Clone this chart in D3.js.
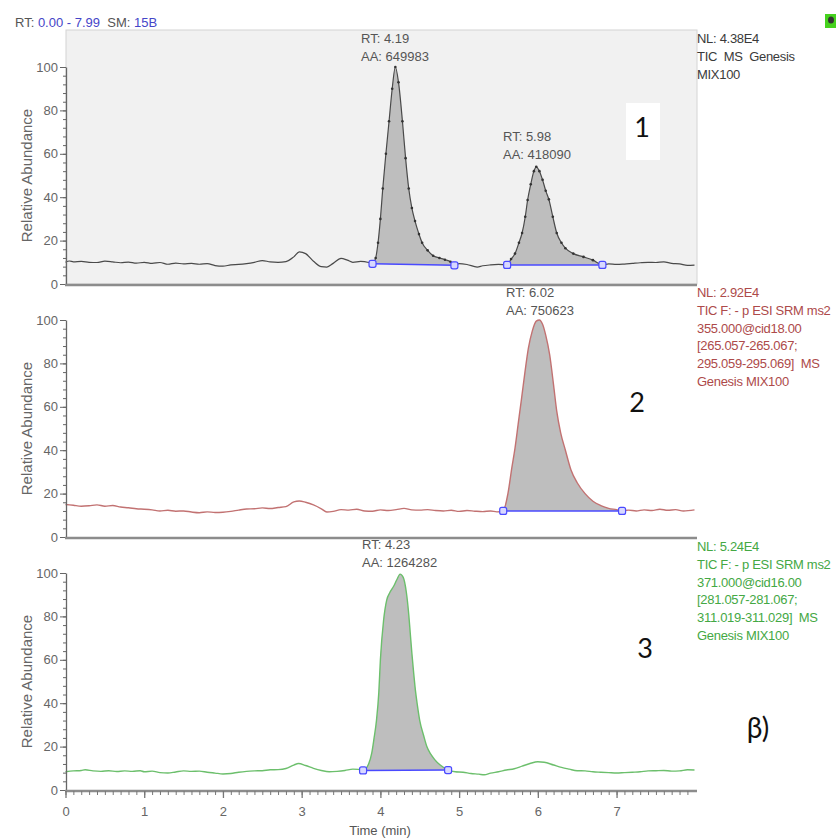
<!DOCTYPE html>
<html>
<head>
<meta charset="utf-8">
<script src="https://cdn.jsdelivr.net/npm/d3@7"></script>
<style>
  body { margin: 0; background: #fff; }
  svg text { font-family: "Liberation Sans", Arial, sans-serif; white-space: pre; }
</style>
</head>
<body>
<div id="chart"></div>
<script>
// chromatogram traces, [time (min), relative abundance]
const trace1 = [
  [0.00, 10.0], [0.05, 10.6], [0.10, 10.2], [0.20, 10.4], [0.30, 10.0], [0.40, 9.9], [0.50, 10.5],
  [0.60, 10.2], [0.70, 9.8], [0.80, 10.1], [0.90, 9.6], [1.00, 10.0], [1.10, 9.5], [1.20, 9.9],
  [1.30, 9.1], [1.40, 9.6], [1.50, 9.3], [1.60, 9.5], [1.70, 9.1], [1.80, 9.4], [1.90, 8.5],
  [2.00, 8.2], [2.10, 8.8], [2.20, 9.0], [2.30, 9.4], [2.40, 10.0], [2.50, 10.8], [2.60, 10.2],
  [2.70, 10.0], [2.80, 10.3], [2.90, 12.5], [2.97, 14.8], [3.05, 14.0], [3.15, 10.5], [3.25, 8.0],
  [3.32, 7.8], [3.40, 9.5], [3.50, 11.8], [3.58, 11.0], [3.65, 10.0], [3.75, 10.4], [3.85, 9.9],
  [3.90, 9.3], [3.94, 12], [3.97, 19], [4.00, 30], [4.03, 44], [4.07, 60], [4.11, 75], [4.15, 90],
  [4.19, 100], [4.23, 93], [4.28, 75], [4.32, 58], [4.36, 44], [4.40, 35], [4.44, 29], [4.49, 23],
  [4.53, 19], [4.60, 15.5], [4.67, 13], [4.75, 12], [4.82, 11.2], [4.89, 10.2], [4.94, 8.6],
  [5.00, 9.4], [5.10, 9.0], [5.23, 7.8], [5.30, 8.4], [5.40, 8.8], [5.50, 9.0], [5.61, 8.8],
  [5.66, 11.5], [5.71, 14], [5.76, 19], [5.80, 23.5], [5.84, 31], [5.87, 38.7], [5.91, 46],
  [5.95, 52], [5.98, 54], [6.02, 52], [6.06, 48], [6.10, 43], [6.14, 39], [6.19, 31], [6.24, 23.5],
  [6.30, 19], [6.35, 16.5], [6.45, 14], [6.58, 12.5], [6.70, 11], [6.82, 8.8], [6.90, 9.3],
  [7.00, 9.0], [7.10, 9.2], [7.20, 9.5], [7.30, 9.8], [7.40, 10.0], [7.50, 9.9], [7.60, 10.2],
  [7.70, 9.5], [7.80, 9.3], [7.90, 8.6], [7.99, 8.7]
];

const trace2 = [
  [0.00, 15.0], [0.10, 14.6], [0.20, 14.2], [0.30, 14.4], [0.40, 14.8], [0.50, 14.2], [0.60, 14.5],
  [0.70, 13.8], [0.80, 13.5], [0.90, 13.0], [1.00, 12.8], [1.10, 12.5], [1.20, 12.0], [1.30, 12.3],
  [1.40, 11.9], [1.50, 12.0], [1.60, 11.5], [1.70, 11.2], [1.80, 11.6], [1.90, 11.3], [2.00, 11.4],
  [2.10, 11.8], [2.20, 12.4], [2.30, 12.9], [2.40, 13.0], [2.50, 13.4], [2.60, 13.1], [2.70, 13.6],
  [2.80, 14.0], [2.90, 16.2], [2.97, 16.6], [3.05, 16.0], [3.15, 14.8], [3.25, 13.0], [3.32, 11.5],
  [3.40, 11.8], [3.50, 12.6], [3.60, 12.4], [3.70, 12.8], [3.80, 12.0], [3.90, 11.9], [4.00, 12.5],
  [4.10, 12.2], [4.20, 12.6], [4.30, 13.2], [4.40, 12.5], [4.50, 12.4], [4.60, 12.6], [4.70, 12.2],
  [4.80, 12.0], [4.90, 12.3], [5.00, 11.8], [5.10, 12.2], [5.20, 11.9], [5.30, 11.7], [5.40, 12.0],
  [5.48, 11.6], [5.56, 12.0], [5.62, 20], [5.67, 32], [5.71, 41], [5.75, 52], [5.79, 63], [5.84, 77],
  [5.88, 87], [5.93, 95], [5.98, 99.5], [6.02, 100], [6.06, 98], [6.10, 93], [6.15, 84], [6.20, 70],
  [6.24, 58], [6.29, 48], [6.35, 40], [6.42, 31], [6.50, 25], [6.60, 20], [6.70, 16.5], [6.80, 14.5],
  [6.90, 13.2], [7.00, 12.6], [7.07, 12.0], [7.15, 12.4], [7.25, 12.0], [7.35, 12.5], [7.45, 12.2],
  [7.55, 12.8], [7.65, 12.3], [7.75, 12.6], [7.85, 12.0], [7.99, 12.5]
];

const trace3 = [
  [0.00, 8.4], [0.10, 8.8], [0.20, 9.0], [0.25, 9.3], [0.35, 8.8], [0.45, 8.6], [0.55, 8.9],
  [0.65, 8.5], [0.75, 8.8], [0.85, 8.6], [0.95, 8.9], [1.00, 8.4], [1.10, 8.7], [1.20, 8.0],
  [1.30, 7.8], [1.40, 8.3], [1.50, 8.8], [1.60, 8.6], [1.70, 8.7], [1.80, 8.2], [1.90, 7.8],
  [2.00, 7.4], [2.10, 7.6], [2.20, 8.2], [2.30, 8.6], [2.40, 8.8], [2.50, 8.9], [2.60, 9.3],
  [2.70, 9.4], [2.80, 9.9], [2.90, 11.5], [2.96, 12.2], [3.05, 11.3], [3.15, 10.0], [3.25, 9.0],
  [3.35, 8.4], [3.45, 8.6], [3.55, 9.0], [3.65, 9.6], [3.72, 9.5], [3.78, 9.0], [3.85, 12],
  [3.89, 17], [3.92, 24], [3.95, 32], [3.98, 45], [4.00, 60], [4.04, 78], [4.08, 87.5], [4.12, 91],
  [4.17, 94], [4.21, 97], [4.25, 99.5], [4.29, 98], [4.33, 91], [4.36, 81], [4.38, 72], [4.40, 63],
  [4.42, 55], [4.44, 47.5], [4.47, 39], [4.50, 32], [4.55, 25], [4.59, 20], [4.64, 16.5], [4.69, 14],
  [4.76, 11.5], [4.86, 9.2], [4.95, 8.4], [5.05, 8.2], [5.15, 7.6], [5.25, 7.3], [5.32, 7.0],
  [5.40, 7.8], [5.50, 8.4], [5.60, 9.2], [5.70, 9.8], [5.80, 11.0], [5.90, 12.2], [6.00, 13.0],
  [6.08, 12.8], [6.20, 11.5], [6.30, 10.4], [6.40, 9.6], [6.50, 8.9], [6.60, 8.8], [6.70, 8.4],
  [6.80, 8.2], [6.90, 8.0], [7.00, 7.8], [7.10, 8.0], [7.20, 8.2], [7.30, 8.4], [7.40, 8.8],
  [7.50, 8.9], [7.60, 9.0], [7.70, 8.7], [7.80, 8.8], [7.90, 9.3], [7.99, 9.2]
];

// integrated peaks: start / end time, label
const peaks1 = [
  { start: 3.90, end: 4.94, rt: "RT: 4.19", aa: "AA: 649983", lx: 361, ly: 43 },
  { start: 5.61, end: 6.82, rt: "RT: 5.98", aa: "AA: 418090", lx: 503, ly: 141 }
];
const peaks2 = [
  { start: 5.56, end: 7.07, rt: "RT: 6.02", aa: "AA: 750623", lx: 506, ly: 297 }
];
const peaks3 = [
  { start: 3.78, end: 4.86, rt: "RT: 4.23", aa: "AA: 1264282", lx: 362, ly: 549 }
];

const info1 = ["NL: 4.38E4", "TIC  MS  Genesis", "MIX100"];
const info2 = ["NL: 2.92E4", "TIC F: - p ESI SRM ms2", "355.000@cid18.00", "[265.057-265.067;", "295.059-295.069]  MS", "Genesis MIX100"];
const info3 = ["NL: 5.24E4", "TIC F: - p ESI SRM ms2", "371.000@cid16.00", "[281.057-281.067;", "311.019-311.029]  MS", "Genesis MIX100"];

const xTicks = [0, 1, 2, 3, 4, 5, 6, 7];
const yTicks = [0, 20, 40, 60, 80, 100];

const width = 836, height = 840;

const svg = d3.select("#chart").append("svg")
  .attr("width", width)
  .attr("height", height);

const x = d3.scaleLinear().domain([0, 7.99]).range([65.5, 694.5]);

const panels = [
  { data: trace1, peaks: peaks1, info: info1, zero: 284, top: 30, color: "#4a4a4a", infoColor: "#3a3a3a", tag: "1", tagX: 642, tagY: 137, dots: true, infoY: 43, bg: true },
  { data: trace2, peaks: peaks2, info: info2, zero: 537, top: 284, color: "#c27272", infoColor: "#ad4a4a", tag: "2", tagX: 637, tagY: 412, dots: false, infoY: 297 },
  { data: trace3, peaks: peaks3, info: info3, zero: 790, top: 537, color: "#6cbf6c", infoColor: "#44a844", tag: "3", tagX: 645, tagY: 658, dots: false, infoY: 551 }
];

panels.forEach((p, i) => {
  const y = d3.scaleLinear().domain([0, 100]).range([p.zero, p.zero - 217]);
  const g = svg.append("g");

  if (p.bg) {
    g.append("rect")
      .attr("x", 66).attr("y", p.top)
      .attr("width", 631).attr("height", p.zero - p.top)
      .attr("fill", "#f1f1f1")
      .attr("stroke", "#d4d4d4");
    // white box behind the panel number
    g.append("rect")
      .attr("x", 626).attr("y", 103).attr("width", 34).attr("height", 57)
      .attr("fill", "#fff");
  }

  // shaded peak areas
  p.peaks.forEach(pk => {
    const pts = p.data.filter(d => d[0] >= pk.start - 1e-9 && d[0] <= pk.end + 1e-9);
    const base = d3.scaleLinear()
      .domain([pk.start, pk.end])
      .range([pts[0][1], pts[pts.length - 1][1]]);
    const area = d3.area()
      .x(d => x(d[0]))
      .y0(d => y(base(d[0])))
      .y1(d => y(d[1]))
      .curve(d3.curveMonotoneX);
    g.append("path").attr("d", area(pts)).attr("fill", "#bebebe");
    pk.pts = pts;
  });

  const line = d3.line()
    .x(d => x(d[0]))
    .y(d => y(d[1]))
    .curve(d3.curveMonotoneX);

  g.append("path")
    .attr("d", line(p.data))
    .attr("fill", "none")
    .attr("stroke", p.color)
    .attr("stroke-width", i === 0 ? 1.2 : 1.4);

  p.peaks.forEach(pk => {
    if (p.dots) {
      g.selectAll(null).data(pk.pts).enter().append("circle")
        .attr("cx", d => x(d[0])).attr("cy", d => y(d[1]))
        .attr("r", 1.3).attr("fill", "#333");
    }
    const a = pk.pts[0], b = pk.pts[pk.pts.length - 1];
    g.append("line")
      .attr("x1", x(a[0])).attr("y1", y(a[1]))
      .attr("x2", x(b[0])).attr("y2", y(b[1]))
      .attr("stroke", "#4a4aff").attr("stroke-width", 1.5);
    g.selectAll(null).data([a, b]).enter().append("rect")
      .attr("x", d => x(d[0]) - 3.5).attr("y", d => y(d[1]) - 3.5)
      .attr("width", 7).attr("height", 7).attr("rx", 2)
      .attr("fill", "#d8d8ff").attr("stroke", "#4a4aff").attr("stroke-width", 1.2);

    g.append("text").attr("x", pk.lx).attr("y", pk.ly)
      .attr("font-size", 13).attr("fill", "#555").text(pk.rt);
    g.append("text").attr("x", pk.lx).attr("y", pk.ly + 18)
      .attr("font-size", 13).attr("fill", "#555").text(pk.aa);
  });

  // y axis: minor then major ticks
  g.append("g")
    .attr("transform", "translate(66,0)")
    .call(d3.axisLeft(y).tickValues(d3.range(0, 101, 4)).tickSize(3).tickFormat(""))
    .call(s => s.select(".domain").remove())
    .selectAll("line").attr("stroke", "#666");

  const yAxis = g.append("g")
    .attr("transform", "translate(66,0)")
    .call(d3.axisLeft(y).tickValues(yTicks).tickSize(6).tickPadding(2).tickSizeOuter(0));
  yAxis.select(".domain").attr("stroke", "#666").attr("stroke-width", 1.3);
  yAxis.selectAll("line").attr("stroke", "#666");
  yAxis.selectAll("text").attr("font-size", 13).attr("fill", "#666")
    .style("font-family", "'Liberation Sans', Arial, sans-serif");

  g.append("text")
    .attr("transform", `translate(32,${(p.zero + p.zero - 217) / 2}) rotate(-90)`)
    .attr("text-anchor", "middle")
    .attr("font-size", 15)
    .attr("fill", "#666")
    .text("Relative Abundance");

  // bottom axis line
  g.append("line")
    .attr("x1", 65).attr("x2", 697)
    .attr("y1", p.zero + 1).attr("y2", p.zero + 1)
    .attr("stroke", "#8c8c8c").attr("stroke-width", 2.5);

  if (i === 2) {
    g.append("g")
      .attr("transform", `translate(0,${p.zero + 1})`)
      .call(d3.axisBottom(x).tickValues(d3.range(0, 7.95, 0.1)).tickSize(4).tickFormat(""))
      .call(s => s.select(".domain").remove())
      .selectAll("line").attr("stroke", "#777");
    const xAxis = g.append("g")
      .attr("transform", `translate(0,${p.zero + 1})`)
      .call(d3.axisBottom(x).tickValues(xTicks).tickSize(7).tickPadding(9).tickSizeOuter(0));
    xAxis.select(".domain").remove();
    xAxis.selectAll("line").attr("stroke", "#777").attr("stroke-width", 1.3);
    xAxis.selectAll("text").attr("font-size", 13).attr("fill", "#666")
      .style("font-family", "'Liberation Sans', Arial, sans-serif");

    g.append("text")
      .attr("x", 380).attr("y", 835)
      .attr("text-anchor", "middle")
      .attr("font-size", 13).attr("fill", "#555")
      .text("Time (min)");
  }

  // info text at right
  g.selectAll(null).data(p.info).enter().append("text")
    .attr("x", 697)
    .attr("y", (d, k) => p.infoY + k * 17.8)
    .attr("font-size", 13)
    .attr("fill", p.infoColor)
    .attr("letter-spacing", -0.3)
    .text(d => d);

  g.append("text")
    .attr("x", p.tagX).attr("y", p.tagY)
    .attr("text-anchor", "middle")
    .attr("font-size", 27)
    .attr("fill", "#111")
    .style("font-family", "Lato, 'Open Sans', sans-serif")
    .text(p.tag);
});

// header
const header = svg.append("text").attr("x", 15).attr("y", 27).attr("font-size", 13);
header.append("tspan").attr("fill", "#555").text("RT: ");
header.append("tspan").attr("fill", "#4545c8").text("0.00 - 7.99");
header.append("tspan").attr("fill", "#555").text("  SM: ");
header.append("tspan").attr("fill", "#4545c8").text("15B");

svg.append("text")
  .attr("x", 758).attr("y", 738)
  .attr("text-anchor", "middle")
  .attr("font-size", 28)
  .attr("fill", "#111")
  .style("font-family", "Lato, 'Open Sans', sans-serif")
  .text("β)");

// small green icon top right
svg.append("rect").attr("x", 825).attr("y", 14).attr("width", 11).attr("height", 14).attr("fill", "#46d21e");
svg.append("ellipse").attr("cx", 831).attr("cy", 20).attr("rx", 3).attr("ry", 3.5).attr("fill", "#333");
</script>
</body>
</html>
